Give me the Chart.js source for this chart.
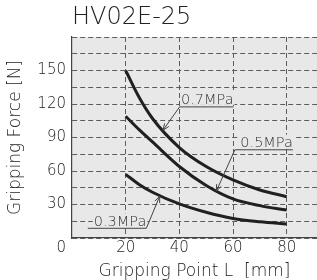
<!DOCTYPE html>
<html>
<head>
<meta charset="utf-8">
<script src="https://cdn.jsdelivr.net/npm/chart.js@4"></script>
<style>
  html, body { margin: 0; padding: 0; background: #fff; }
  #wrap { width: 317px; height: 280px; }
</style>
</head>
<body>
<div id="wrap"><canvas id="grip"></canvas></div>
<script>
// valeurs
const chartTitle = "HV02E-25";
const gripPoints = [20, 25, 30, 40, 50, 60, 70, 80];
const force07 = [150, 126, 107, 81, 64, 52, 43, 37];
const force05 = [109, 97, 86, 64, 47, 35, 29, 25];
const force03 = [57, 48, 41, 30.5, 23, 17.5, 14.5, 12.5];
const pressureLabels = ["0.7MPa", "0.5MPa", "0.3MPa"];
const xTicks = [20, 40, 60, 80];
const yLabelTicks = [30, 60, 90, 120, 150];

// repères des étiquettes (en unités du graphique)
const callouts = [
    { text: "0.7MPa", x1: 40.1, x2: 60.2, y: 117.4, tipX: 33.9, tipY: 96.5, side: "left" },
    { text: "0.5MPa", x1: 60.7, x2: 82.3, y: 79, tipX: 53.8, tipY: 42, side: "left" },
    { text: "0.3MPa", x1: 5.9, x2: 27.7, y: 8.7, tipX: 32.7, tipY: 37.5, side: "right" }
];

const FONT = "'DejaVu Sans', sans-serif";
const WEIGHT = 200;
const INK = "#222";
const GRID = "#5c5c5c";

function arrow(ctx, x0, y0, x1, y1) {
    let ang = Math.atan2(y1 - y0, x1 - x0);
    let len = 7, w = 0.38;
    ctx.beginPath();
    ctx.moveTo(x0, y0);
    ctx.lineTo(x1, y1);
    ctx.moveTo(x1 - len * Math.cos(ang - w), y1 - len * Math.sin(ang - w));
    ctx.lineTo(x1, y1);
    ctx.lineTo(x1 - len * Math.cos(ang + w), y1 - len * Math.sin(ang + w));
    ctx.stroke();
}

const paperPlugin = {
    id: "paper",
    beforeDraw(chart) {
        let { ctx, chartArea: a } = chart;
        ctx.save();
        ctx.fillStyle = "#e8e8e9";
        ctx.fillRect(a.left, a.top, a.right - a.left, a.bottom - a.top);
        ctx.restore();
    },
    afterDraw(chart) {
        let ctx = chart.ctx;
        let sx = chart.scales.x, sy = chart.scales.y;
        ctx.save();
        ctx.font = WEIGHT + " 14.5px " + FONT;
        callouts.forEach(c => {
            let left = sx.getPixelForValue(c.x1);
            let right = sx.getPixelForValue(c.x2);
            let base = sy.getPixelForValue(c.y);
            let w = ctx.measureText(c.text).width;
            // fond pour masquer la grille derrière le texte
            ctx.fillStyle = "#e8e8e9";
            ctx.fillRect(right - w - 1, base - 15, w + 2, 13);
            ctx.fillStyle = "#333";
            ctx.textAlign = "right";
            ctx.textBaseline = "alphabetic";
            ctx.fillText(c.text, right, base - 2.5);
            ctx.strokeStyle = "#444";
            ctx.lineWidth = 1;
            ctx.beginPath();
            ctx.moveTo(left, base);
            ctx.lineTo(right, base);
            ctx.stroke();
            let sxp = c.side === "left" ? left : right;
            arrow(ctx, sxp, base, sx.getPixelForValue(c.tipX), sy.getPixelForValue(c.tipY));
        });
        // le "0" de l'origine
        ctx.font = WEIGHT + " 15px " + FONT;
        ctx.fillStyle = INK;
        ctx.textAlign = "right";
        ctx.textBaseline = "middle";
        ctx.fillText("0", sy.right - 6, sx.top + 10);
        ctx.restore();
    }
};

const series = [force07, force05, force03];

new Chart(document.getElementById("grip"), {
    type: "line",
    data: {
        datasets: series.map((d, i) => ({
            label: pressureLabels[i],
            data: gripPoints.map((x, j) => ({ x: x, y: d[j] })),
            borderColor: "#231f20",
            borderWidth: 3,
            borderCapStyle: "butt",
            pointRadius: 0,
            fill: false,
            cubicInterpolationMode: "monotone"
        }))
    },
    options: {
        responsive: true,
        maintainAspectRatio: false,
        animation: false,
        layout: { padding: 0 },
        plugins: {
            legend: { display: false },
            tooltip: { enabled: false },
            title: {
                display: true,
                text: chartTitle,
                align: "start",
                fullSize: false,
                color: INK,
                font: { family: FONT, size: 24, weight: WEIGHT },
                padding: { top: 3, bottom: 5.2 }
            }
        },
        scales: {
            x: {
                type: "linear",
                min: 0,
                max: 91.3,
                afterBuildTicks(s) { s.ticks = xTicks.map(v => ({ value: v })); },
                afterFit(s) { s.height = 42; },
                grid: { color: GRID, lineWidth: 1, drawTicks: false },
                border: { display: true, color: "#444", width: 1.2, dash: [5, 3] },
                ticks: { color: INK, padding: 1, font: { family: FONT, size: 15, weight: WEIGHT } },
                title: {
                    display: true,
                    text: "Gripping Point L  [mm]",
                    color: INK,
                    font: { family: FONT, size: 17, lineHeight: 1, weight: WEIGHT },
                    padding: { top: 0, bottom: 0 }
                }
            },
            y: {
                min: 0,
                max: 180,
                afterFit(s) { s.width = 72; },
                grid: { color: GRID, lineWidth: 1, drawTicks: false },
                border: { display: true, color: "#444", width: 1.2, dash: [5, 3] },
                ticks: {
                    stepSize: 15,
                    autoSkip: false,
                    color: INK,
                    padding: 6,
                    font: { family: FONT, size: 15, weight: WEIGHT },
                    callback: v => yLabelTicks.includes(v) ? String(v) : ""
                },
                title: {
                    display: true,
                    text: "Gripping Force [N]",
                    color: INK,
                    font: { family: FONT, size: 17, weight: WEIGHT },
                    padding: { top: 5, bottom: 0 }
                }
            }
        }
    },
    plugins: [paperPlugin]
});
</script>
</body>
</html>
